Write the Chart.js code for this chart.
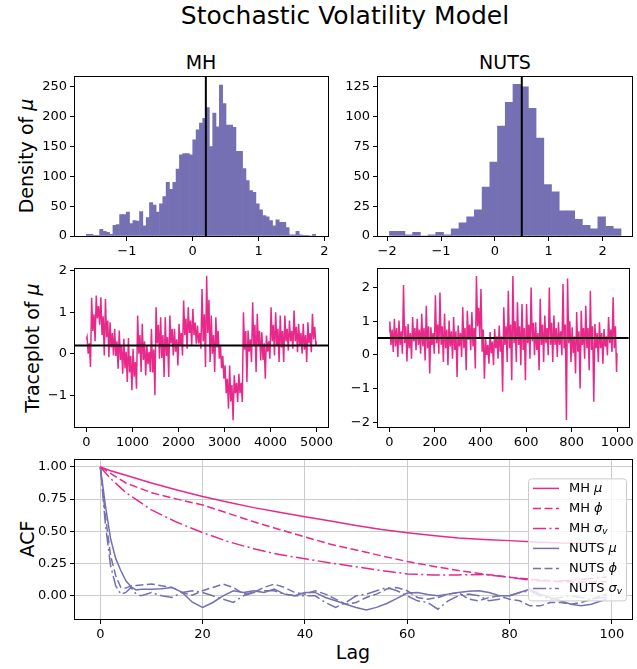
<!DOCTYPE html>
<html>
<head>
<meta charset="utf-8">
<script src="https://cdn.jsdelivr.net/npm/chart.js@4.4.0/dist/chart.umd.min.js"></script>
<style>
  body { margin: 0; width: 637px; height: 669px; overflow: hidden; background: #fff; position: relative; font-family: "DejaVu Sans", sans-serif; }
  canvas { position: absolute; }
  .lbl { position: absolute; white-space: nowrap; line-height: 1; color: #000; transform: translate(-50%, -50%); }
  .rot { transform: translate(-50%, -50%) rotate(-90deg); }
</style>
</head>
<body>
<div class="lbl" style="left:345px;top:15px;font-size:25px">Stochastic Volatility Model</div>
<div class="lbl" style="left:201px;top:62px;font-size:19px">MH</div>
<div class="lbl" style="left:505px;top:62px;font-size:19px">NUTS</div>
<div class="lbl rot" style="left:26px;top:156px;font-size:19px">Density of <i>μ</i></div>
<div class="lbl rot" style="left:32px;top:348px;font-size:19px">Traceplot of <i>μ</i></div>
<div class="lbl rot" style="left:27px;top:539px;font-size:19px">ACF</div>
<div class="lbl" style="left:353px;top:652px;font-size:19px">Lag</div>

<canvas id="histMH"></canvas>
<canvas id="histNUTS"></canvas>
<canvas id="traceMH"></canvas>
<canvas id="traceNUTS"></canvas>
<canvas id="acf"></canvas>

<script>
// ===== Data =====
const mhMean = 0.2;
const nutsMean = 0.5;

// histogram of mu, MH (bin centres / counts)
const mhBinCenters = [
  -1.590, -1.540, -1.489, -1.439, -1.388, -1.338, -1.287, -1.237, -1.186, -1.136,
  -1.085, -1.035, -0.984, -0.934, -0.883, -0.833, -0.782, -0.732, -0.681, -0.631,
  -0.580, -0.530, -0.479, -0.429, -0.378, -0.328, -0.277, -0.227, -0.176, -0.126,
  -0.075, -0.025, 0.026, 0.077, 0.127, 0.178, 0.228, 0.279, 0.329, 0.380,
  0.430, 0.481, 0.531, 0.582, 0.632, 0.683, 0.733, 0.784, 0.834, 0.885,
  0.935, 0.986, 1.036, 1.087, 1.137, 1.188, 1.238, 1.289, 1.339, 1.390,
  1.440, 1.491, 1.541, 1.592, 1.642, 1.693, 1.743, 1.794, 1.844
];
const mhBinCounts = [
  3, 3, 1, 1, 11, 8, 6, 3, 18, 19,
  36, 36, 40, 21, 26, 25, 41, 17, 31, 56,
  52, 40, 54, 66, 90, 78, 90, 112, 136, 138,
  138, 136, 161, 178, 189, 197, 215, 150, 206, 183,
  253, 222, 186, 186, 182, 142, 142, 113, 93, 76,
  73, 54, 44, 34, 32, 26, 17, 27, 23, 23,
  14, 2, 2, 8, 2, 1, 1, 0, 3
];

// histogram of mu, NUTS
const nutsBinCenters = [
  -1.885, -1.742, -1.598, -1.455, -1.312, -1.169, -1.025, -0.882, -0.739, -0.595,
  -0.452, -0.309, -0.165, -0.022, 0.121, 0.265, 0.408, 0.551, 0.694, 0.838,
  0.981, 1.124, 1.268, 1.411, 1.554, 1.698, 1.841, 1.984, 2.127, 2.271
];
const nutsBinCounts = [
  4, 4, 1, 3, 0, 1, 3, 1, 6, 11,
  16, 22, 41, 62, 92, 112, 127, 125, 107, 82,
  43, 37, 21, 21, 14, 9, 6, 16, 8, 6
];

// traceplot of mu, MH (thinned)
const mhIter = [0,
  12, 37, 62, 87, 112, 137, 162, 187, 212, 237, 262, 287, 312, 337, 362, 387, 412, 437, 462, 487,
  512, 537, 562, 587, 612, 637, 662, 687, 712, 737, 762, 787, 812, 837, 862, 887, 912, 937, 962, 987,
  1012, 1037, 1062, 1087, 1112, 1137, 1162, 1187, 1212, 1237, 1262, 1287, 1312, 1337, 1362, 1387, 1412, 1437, 1462, 1487,
  1512, 1537, 1562, 1587, 1612, 1637, 1662, 1687, 1712, 1737, 1762, 1787, 1812, 1837, 1862, 1887, 1912, 1937, 1962, 1987,
  2012, 2037, 2062, 2087, 2112, 2137, 2162, 2187, 2212, 2237, 2262, 2287, 2312, 2337, 2362, 2387, 2412, 2437, 2462, 2487,
  2512, 2537, 2562, 2587, 2612, 2637, 2662, 2687, 2712, 2737, 2762, 2787, 2812, 2837, 2862, 2887, 2912, 2937, 2962, 2987,
  3012, 3037, 3062, 3087, 3112, 3137, 3162, 3187, 3212, 3237, 3262, 3287, 3312, 3337, 3362, 3387, 3412, 3437, 3462, 3487,
  3512, 3537, 3562, 3587, 3612, 3637, 3662, 3687, 3712, 3737, 3762, 3787, 3812, 3837, 3862, 3887, 3912, 3937, 3962, 3987,
  4012, 4037, 4062, 4087, 4112, 4137, 4162, 4187, 4212, 4237, 4262, 4287, 4312, 4337, 4362, 4387, 4412, 4437, 4462, 4487,
  4512, 4537, 4562, 4587, 4612, 4637, 4662, 4687, 4712, 4737, 4762, 4787, 4812, 4837, 4862, 4887, 4912, 4937, 4962, 4987,
  4999];
const mhTrace = [0.35,
  0.40, 0.00, 0.25, -0.32, 1.35, 0.55, 0.95, 0.30, 1.40, 0.85, 1.15, 0.70, 1.36, 0.45, 0.90, -0.04, 1.32, 0.40, 0.80, -0.08,
  0.76, 0.15, 0.50, -0.04, 0.60, -0.05, 0.30, -0.36, 0.56, -0.15, 0.20, -0.48, 0.36, -0.35, 0.05, -0.68, 0.38, -0.45, -0.05, -0.88,
  0.12, -0.55, -0.20, -0.84, 0.92, 0.00, 0.45, -0.44, 0.72, -0.15, 0.30, -0.52, 0.20, -0.25, 0.05, -0.44, 0.60, -0.45, 0.10, -1.00,
  1.12, 0.25, 0.70, -0.12, 0.88, -0.10, 0.45, -0.56, 0.88, -0.05, 0.40, -0.56, 0.92, 0.25, 0.60, -0.04, 0.60, 0.05, 0.35, -0.28,
  0.72, 0.20, 0.50, -0.04, 1.28, 0.45, 0.85, 0.12, 1.12, 0.50, 0.80, 0.20, 1.08, 0.45, 0.75, 0.24, 0.68, 0.25, 0.50, 0.12,
  1.56, 0.30, 0.95, -0.32, 1.88, 0.50, 1.30, -0.20, 0.92, 0.00, 0.45, -0.44, 0.88, 0.15, 0.55, -0.12, 0.20, -0.35, -0.05, -0.60,
  -0.28, -0.95, -0.60, -1.32, -0.28, -1.15, -0.75, -1.60, -0.52, -0.95, -0.70, -1.16, -0.48, -0.95, -0.70, -1.16, 1.00, 0.10, 0.55, -0.68,
  0.56, 0.05, 0.35, -0.20, 1.24, 0.20, 0.70, -0.44, 0.96, 0.20, 0.55, -0.16, 0.52, -0.15, 0.25, -0.60, 0.44, 0.05, 0.30, -0.12,
  1.12, 0.30, 0.70, -0.04, 1.00, 0.20, 0.60, -0.20, 0.92, 0.15, 0.55, -0.20, 0.92, 0.30, 0.60, 0.08, 0.80, 0.30, 0.55, 0.12,
  1.04, 0.30, 0.65, 0.04, 0.72, 0.20, 0.50, 0.00, 0.72, 0.10, 0.45, -0.20, 0.76, 0.25, 0.50, 0.04, 0.96, 0.35, 0.65, 0.20,
  0.30];

// traceplot of mu, NUTS
const nutsIter = [0,
  2, 7, 12, 17, 22, 27, 32, 37, 42, 47, 52, 57, 62, 67, 72, 77, 82, 87, 92, 97,
  102, 107, 112, 117, 122, 127, 132, 137, 142, 147, 152, 157, 162, 167, 172, 177, 182, 187, 192, 197,
  202, 207, 212, 217, 222, 227, 232, 237, 242, 247, 252, 257, 262, 267, 272, 277, 282, 287, 292, 297,
  302, 307, 312, 317, 322, 327, 332, 337, 342, 347, 352, 357, 362, 367, 372, 377, 382, 387, 392, 397,
  402, 407, 412, 417, 422, 427, 432, 437, 442, 447, 452, 457, 462, 467, 472, 477, 482, 487, 492, 497,
  502, 507, 512, 517, 522, 527, 532, 537, 542, 547, 552, 557, 562, 567, 572, 577, 582, 587, 592, 597,
  602, 607, 612, 617, 622, 627, 632, 637, 642, 647, 652, 657, 662, 667, 672, 677, 682, 687, 692, 697,
  702, 707, 712, 717, 722, 727, 732, 737, 742, 747, 752, 757, 762, 767, 772, 777, 782, 787, 792, 797,
  802, 807, 812, 817, 822, 827, 832, 837, 842, 847, 852, 857, 862, 867, 872, 877, 882, 887, 892, 897,
  902, 907, 912, 917, 922, 927, 932, 937, 942, 947, 952, 957, 962, 967, 972, 977, 982, 987, 992, 997,
  999];
const nutsTrace = [0.68,
  0.99, 0.30, 0.75, 0.09, 1.07, 0.25, 0.80, -0.06, 1.02, 0.30, 0.70, 0.04, 2.07, 0.35, 0.85, -0.19, 0.92, 0.20, 0.65, -0.11,
  1.12, 0.40, 0.80, 0.14, 1.07, 0.30, 0.75, 0.04, 1.22, 0.25, 0.80, -0.16, 1.46, 0.20, 0.85, -0.55, 0.82, 0.30, 0.65, 0.04,
  1.77, 0.35, 0.90, 0.04, 1.85, 0.30, 0.85, -0.21, 1.22, 0.20, 0.75, -0.30, 1.02, 0.25, 0.70, -0.11, 1.12, 0.15, 0.70, -0.65,
  0.87, 0.25, 0.65, -0.06, 1.41, 0.20, 0.80, -0.45, 1.31, 0.45, 0.90, 0.14, 1.27, 0.25, 0.80, -0.40, 2.34, 0.85, 1.40, 0.48,
  1.95, 0.10, 0.75, -0.70, 0.48, 0.00, 0.30, -0.26, 0.68, 0.05, 0.40, -0.30, 0.77, 0.20, 0.55, -0.11, 0.87, 0.10, 0.55, -1.09,
  1.41, 0.30, 0.85, -0.21, 1.90, 0.20, 0.90, -0.75, 2.34, 0.35, 1.00, -0.21, 1.56, 0.30, 0.85, -0.30, 1.51, 0.15, 0.80, -0.75,
  1.51, 0.35, 0.90, -0.11, 2.00, 0.40, 0.95, -0.01, 0.97, 0.15, 0.65, -0.45, 1.66, 0.30, 0.90, -0.21, 1.17, 0.35, 0.80, -0.01,
  2.00, 0.30, 0.95, -0.21, 1.17, 0.30, 0.80, -0.06, 0.97, 0.30, 0.70, -0.01, 2.10, 0.20, 0.90, -1.92, 2.26, 0.35, 1.00, -0.21,
  0.82, 0.05, 0.55, -0.55, 1.27, 0.10, 0.70, -0.99, 1.31, 0.30, 0.80, -0.11, 1.46, 0.20, 0.80, -0.45, 1.90, 0.15, 0.85, -1.38,
  0.92, 0.20, 0.65, -0.21, 0.97, 0.20, 0.65, -0.26, 0.77, 0.25, 0.55, -0.01, 1.12, 0.35, 0.75, 0.09, 1.71, 0.20, 0.85, -0.50,
  0.05];

// autocorrelation
const mhLags = [0, 2, 5, 10, 15, 20, 25, 30, 35, 40, 45, 50, 55, 60, 65, 70, 75, 80, 85, 90, 95, 99];
const acfMHmu    = [1.0, 0.97, 0.935, 0.875, 0.82, 0.77, 0.725, 0.684, 0.648, 0.614, 0.58, 0.545, 0.515, 0.49, 0.468, 0.449, 0.437, 0.428, 0.418, 0.41, 0.407, 0.405];
const acfMHphi   = [1.0, 0.95, 0.875, 0.80, 0.75, 0.705, 0.64, 0.574, 0.515, 0.457, 0.40, 0.355, 0.31, 0.266, 0.23, 0.196, 0.168, 0.144, 0.125, 0.11, 0.105, 0.11];
const acfMHsigma = [1.0, 0.91, 0.80, 0.666, 0.57, 0.49, 0.42, 0.365, 0.32, 0.287, 0.255, 0.225, 0.196, 0.17, 0.162, 0.162, 0.165, 0.144, 0.117, 0.115, 0.13, 0.145];

const nutsLags = [0, 1, 2, 3, 4, 5, 6, 7, 8,
  10, 12, 14, 16, 18, 20, 22, 24, 26, 28, 30, 32, 34, 36, 38, 40, 42, 44, 46, 48, 50,
  52, 54, 56, 58, 60, 62, 64, 66, 68, 70, 72, 74, 76, 78, 80, 82, 84, 86, 88, 90,
  92, 94, 96, 98, 99];
const acfNUTSmu = [1.0, 0.70, 0.444, 0.29, 0.196, 0.117, 0.07, 0.045, 0.05,
  0.05, 0.055, 0.065, 0.026, -0.05, -0.09, -0.052, 0.0, 0.039, 0.026, 0.039, 0.026, 0.052, 0.013, 0.0, 0.026, 0.026, -0.013, -0.039, -0.065, -0.091,
  -0.11, -0.09, -0.06, -0.02, 0.021, 0.026, 0.01, 0.0, 0.013, 0.026, 0.035, 0.039, 0.026, 0.0, 0.0, 0.026, 0.052, 0.013, -0.013, -0.039,
  -0.065, -0.078, -0.065, -0.039, -0.026];
const acfNUTSphi = [1.0, 0.62, 0.313, 0.157, 0.065, 0.06, 0.078, 0.08, 0.084,
  0.091, 0.078, 0.065, 0.026, 0.005, 0.039, 0.065, 0.091, 0.065, 0.013, 0.026, 0.065, 0.091, 0.065, 0.026, 0.013, 0.039, 0.013, -0.026, -0.065, -0.052,
  -0.013, 0.013, 0.052, 0.065, 0.039, -0.013, -0.026, -0.013, 0.013, 0.026, -0.026, -0.039, -0.013, 0.0, -0.026, -0.039, -0.078, -0.078, -0.052, -0.052,
  -0.065, -0.052, -0.026, 0.0, 0.013];
const acfNUTSsigma = [1.0, 0.55, 0.235, 0.078, 0.013, 0.026, 0.065, 0.013, 0.0,
  0.026, 0.0, -0.013, 0.026, 0.039, 0.026, 0.0, -0.026, -0.052, 0.0, 0.026, 0.039, 0.039, 0.013, 0.0, 0.0, 0.0, -0.052, -0.091, -0.052, 0.0,
  0.013, 0.039, 0.065, 0.039, 0.0, -0.039, -0.052, -0.104, -0.039, 0.0, 0.013, 0.0, -0.039, -0.026, 0.0, 0.026, 0.039, 0.0, -0.026, -0.013,
  0.0, -0.013, -0.026, -0.013, -0.013];

// tick positions
const histMHXTicks = [-1, 0, 1, 2];
const histMHYTicks = [0, 50, 100, 150, 200, 250];
const histNUTSXTicks = [-2, -1, 0, 1, 2];
const histNUTSYTicks = [0, 25, 50, 75, 100, 125];
const traceMHXTicks = [0, 1000, 2000, 3000, 4000, 5000];
const traceMHYTicks = [-1, 0, 1, 2];
const traceNUTSXTicks = [0, 200, 400, 600, 800, 1000];
const traceNUTSYTicks = [-2, -1, 0, 1, 2];
const acfXTicks = [0, 20, 40, 60, 80, 100];
const acfYTicks = [0, 0.25, 0.5, 0.75, 1.0];

// legend entries: [prefix, symbol, subscript]
const legendParts = [
  ['MH ', 'μ', ''], ['MH ', 'ϕ', ''], ['MH ', 'σ', 'v'],
  ['NUTS ', 'μ', ''], ['NUTS ', 'ϕ', ''], ['NUTS ', 'σ', 'v']
];

// ===== Style =====
const FONT = '"DejaVu Sans", sans-serif';
const PINK = '#e7298a';
const PURPLE = '#7570b3';
const DASH = [8, 3.5];
const DASHDOT = [13, 3.5, 2, 3.5];
const Y_AXIS_W = 60, X_AXIS_H = 30, PAD_TOP = 10;

Chart.defaults.font.family = FONT;
Chart.defaults.color = '#000';

// ===== Helpers =====
function placeCanvas(id, plot, padRight) {
  const c = document.getElementById(id);
  const w = Y_AXIS_W + (plot.right - plot.left) + padRight;
  const h = PAD_TOP + (plot.bottom - plot.top) + X_AXIS_H;
  c.width = w; c.height = h;
  c.style.width = w + 'px'; c.style.height = h + 'px';
  c.style.left = (plot.left - Y_AXIS_W) + 'px';
  c.style.top = (plot.top - PAD_TOP) + 'px';
  return c;
}

function minusFmt(v) {
  if (Math.abs(v) < 1e-9) return '0';
  return v < 0 ? '\u2212' + Math.abs(v) : String(v);
}

function axis(kind, min, max, tickValues, fmt, gridOn) {
  return {
    type: 'linear', min, max, offset: false,
    afterBuildTicks: (s) => { s.ticks = tickValues.map(v => ({ value: v })); },
    afterFit: (s) => { if (kind === 'x') s.height = X_AXIS_H; else s.width = Y_AXIS_W; },
    ticks: {
      autoSkip: false, maxRotation: 0,
      color: '#000', font: { family: FONT, size: 13 }, padding: 3, callback: fmt
    },
    grid: {
      display: true, drawOnChartArea: !!gridOn, offset: false,
      color: '#cccccc', lineWidth: 1,
      drawTicks: true, tickLength: 5, tickColor: '#000', tickWidth: 1
    },
    border: { display: false }
  };
}

function pts(xs, ys) {
  return xs.map((x, i) => ({ x, y: ys[i] }));
}

// frame box + mean lines
const framePlugin = {
  id: 'frameAndMean',
  afterDatasetsDraw(chart, args, opts) {
    const { ctx, chartArea: a, scales } = chart;
    ctx.save();
    ctx.strokeStyle = '#000';
    ctx.lineWidth = 2;
    if (opts.vline !== undefined) {
      const x = scales.x.getPixelForValue(opts.vline);
      ctx.beginPath(); ctx.moveTo(x, a.top); ctx.lineTo(x, a.bottom); ctx.stroke();
    }
    if (opts.hline !== undefined) {
      const y = scales.y.getPixelForValue(opts.hline);
      ctx.beginPath(); ctx.moveTo(a.left, y); ctx.lineTo(a.right, y); ctx.stroke();
    }
    ctx.restore();
  },
  afterDraw(chart) {
    const { ctx, chartArea: a } = chart;
    ctx.save();
    ctx.strokeStyle = '#000';
    ctx.lineWidth = 1;
    const l = Math.round(a.left) - 0.5, t = Math.round(a.top) - 0.5;
    const r = Math.round(a.right) + 0.5, b = Math.round(a.bottom) + 0.5;
    ctx.strokeRect(l, t, r - l, b - t);
    ctx.restore();
  }
};

// custom legend (italic symbols, subscript)
const acfLegend = {
  id: 'acfLegend',
  afterDatasetsDraw(chart) {
    const { ctx, chartArea: a } = chart;
    const w = 98, h = 122;
    const x = a.right - 6 - w;
    const y = (a.top + a.bottom) / 2 - h / 2;
    ctx.save();
    ctx.beginPath();
    ctx.roundRect(x + 0.5, y + 0.5, w, h, 3);
    ctx.fillStyle = 'rgba(255,255,255,0.8)';
    ctx.fill();
    ctx.strokeStyle = '#cccccc';
    ctx.lineWidth = 1;
    ctx.stroke();

    chart.data.datasets.forEach((ds, i) => {
      const ry = y + 10 + 20 * i;
      ctx.beginPath();
      ctx.setLineDash(ds.borderDash || []);
      ctx.strokeStyle = ds.borderColor;
      ctx.lineWidth = 1.5;
      ctx.moveTo(x + 5, ry); ctx.lineTo(x + 31, ry);
      ctx.stroke();
      ctx.setLineDash([]);

      const [prefix, sym, sub] = legendParts[i];
      let tx = x + 41;
      ctx.fillStyle = '#000';
      ctx.textBaseline = 'middle';
      ctx.font = '13px ' + FONT;
      ctx.fillText(prefix, tx, ry);
      tx += ctx.measureText(prefix).width;
      ctx.font = 'italic 13px ' + FONT;
      ctx.fillText(sym, tx, ry);
      tx += ctx.measureText(sym).width;
      if (sub) {
        ctx.font = 'italic 9px ' + FONT;
        ctx.fillText(sub, tx, ry + 3);
      }
    });
    ctx.restore();
  }
};

function baseOptions(padRight, xAxis, yAxis, frameOpts) {
  return {
    responsive: false, animation: false, devicePixelRatio: 1,
    layout: { padding: { left: 0, top: PAD_TOP, right: padRight, bottom: 0 } },
    plugins: { legend: { display: false }, tooltip: { enabled: false }, frameAndMean: frameOpts || {} },
    scales: { x: xAxis, y: yAxis }
  };
}

// ===== Panels (plot-area rectangles in page pixels) =====
const plotHistMH    = { left: 75,  right: 328, top: 76,  bottom: 236 };
const plotHistNUTS  = { left: 378, right: 632, top: 76,  bottom: 236 };
const plotTraceMH   = { left: 75,  right: 328, top: 268, bottom: 427 };
const plotTraceNUTS = { left: 378, right: 632, top: 268, bottom: 427 };
const plotACF       = { left: 75,  right: 632, top: 459, bottom: 619 };

function histChart(id, plot, padR, centers, counts, xr, xt, ymax, yt, mean) {
  const c = placeCanvas(id, plot, padR);
  new Chart(c, {
    type: 'bar',
    data: { datasets: [{
      data: pts(centers, counts),
      backgroundColor: PURPLE, borderWidth: 0,
      barPercentage: 1, categoryPercentage: 1, grouped: false
    }] },
    options: baseOptions(padR,
      axis('x', xr[0], xr[1], xt, minusFmt, false),
      axis('y', 0, ymax, yt, minusFmt, false),
      { vline: mean }),
    plugins: [framePlugin]
  });
}

function traceChart(id, plot, padR, iters, vals, xr, xt, yr, yt, mean) {
  const c = placeCanvas(id, plot, padR);
  new Chart(c, {
    type: 'line',
    data: { datasets: [{
      data: pts(iters, vals),
      borderColor: PINK, borderWidth: 1.5, pointRadius: 0, tension: 0, fill: false
    }] },
    options: baseOptions(padR,
      axis('x', xr[0], xr[1], xt, minusFmt, false),
      axis('y', yr[0], yr[1], yt, minusFmt, false),
      { hline: mean }),
    plugins: [framePlugin]
  });
}

// ===== Boot =====
histChart('histMH', plotHistMH, 10, mhBinCenters, mhBinCounts, [-1.787, 2.055], histMHXTicks, 266.7, histMHYTicks, mhMean);
histChart('histNUTS', plotHistNUTS, 5, nutsBinCenters, nutsBinCounts, [-2.17, 2.547], histNUTSXTicks, 133.35, histNUTSYTicks, nutsMean);
traceChart('traceMH', plotTraceMH, 10, mhIter, mhTrace, [-250, 5250], traceMHXTicks, [-1.762, 2.045], traceMHYTicks, mhMean);
traceChart('traceNUTS', plotTraceNUTS, 5, nutsIter, nutsTrace, [-50, 1050], traceNUTSXTicks, [-2.13, 2.55], traceNUTSYTicks, nutsMean);

(function acfChart() {
  const c = placeCanvas('acf', plotACF, 5);
  const line = (label, xs, ys, color, dash) => ({
    label, data: pts(xs, ys), borderColor: color, borderWidth: 1.5,
    borderDash: dash, pointRadius: 0, tension: 0, fill: false
  });
  new Chart(c, {
    type: 'line',
    data: { datasets: [
      line('MH μ', mhLags, acfMHmu, PINK, []),
      line('MH ϕ', mhLags, acfMHphi, PINK, DASH),
      line('MH σv', mhLags, acfMHsigma, PINK, DASHDOT),
      line('NUTS μ', nutsLags, acfNUTSmu, PURPLE, []),
      line('NUTS ϕ', nutsLags, acfNUTSphi, PURPLE, DASH),
      line('NUTS σv', nutsLags, acfNUTSsigma, PURPLE, DASHDOT)
    ] },
    options: baseOptions(5,
      axis('x', -4.95, 103.95, acfXTicks, minusFmt, true),
      axis('y', -0.18, 1.055, acfYTicks, v => v.toFixed(2), true),
      {}),
    plugins: [framePlugin, acfLegend]
  });
})();
</script>
</body>
</html>
